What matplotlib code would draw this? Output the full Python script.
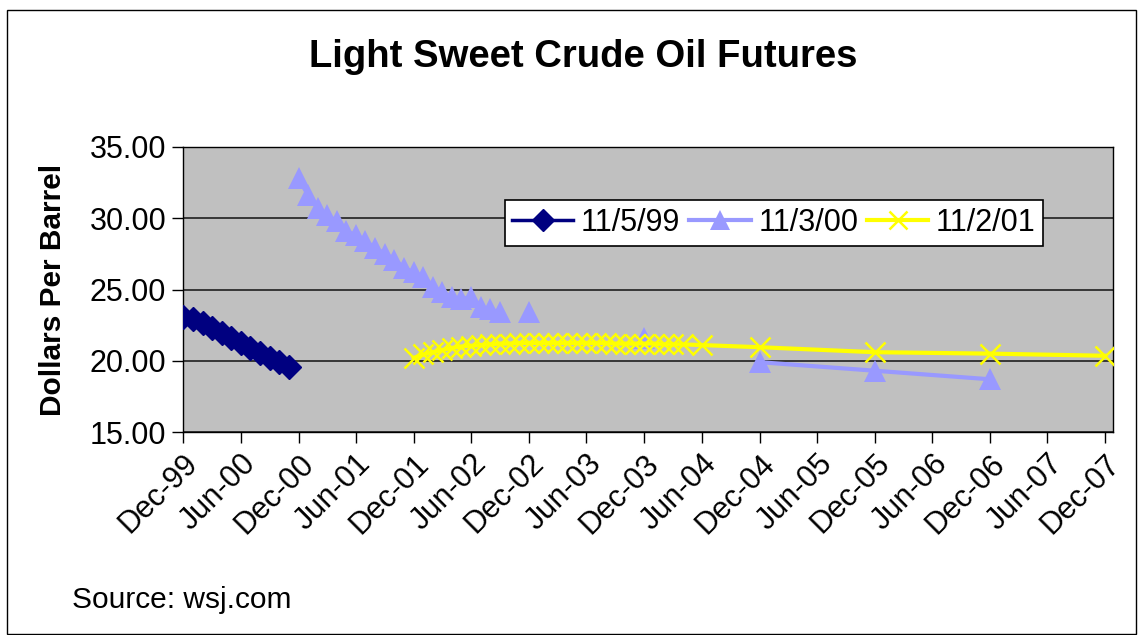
import numpy as np
import pandas as pd
import matplotlib
matplotlib.use('Agg')
import matplotlib.pyplot as plt
import matplotlib.dates as mdates
from matplotlib.patches import Rectangle

plt.rcParams['font.family'] = ['Liberation Sans', 'DejaVu Sans']

nan = np.nan

# futures curve seen on 11/5/99
dates_99 = pd.date_range('1999-12-01', '2000-11-01', freq='MS')
prices_99 = [23.07, 22.93, 22.65, 22.30, 21.95, 21.60, 21.25, 20.90, 20.55, 20.20, 19.90, 19.55]

# futures curve seen on 11/3/00 (blank months break the line, like in the sheet)
dates_00 = pd.date_range('2000-12-01', '2002-09-01', freq='MS').append(
    pd.to_datetime(['2002-11-01', '2002-12-01', '2003-06-01', '2003-12-01',
                    '2004-06-01', '2004-12-01', '2005-12-01', '2006-12-01']))
prices_00 = [32.8, 31.6, 30.7, 30.2, 29.8, 29.1, 28.8, 28.4, 27.9, 27.5, 27.1,
             26.5, 26.2, 25.9, 25.2, 24.8, 24.5, 24.3, 24.5, 23.8, 23.6, 23.4,
             nan, 23.4, nan, 21.6, nan, 19.9, 19.3, 18.7]

# futures curve seen on 11/2/01
dates_01 = pd.date_range('2001-12-01', '2004-04-01', freq='MS').append(
    pd.to_datetime(['2004-06-01', '2004-12-01', '2005-12-01', '2006-12-01', '2007-12-01']))
prices_01 = [20.2, 20.45, 20.6, 20.75, 20.9, 21.0, 21.05, 21.1, 21.15, 21.2,
             21.2, 21.25, 21.25, 21.25, 21.25, 21.25, 21.25, 21.25, 21.25, 21.25,
             21.25, 21.2, 21.2, 21.2, 21.2, 21.2, 21.15, 21.15, 21.15,
             21.1, 20.95, 20.6, 20.5, 20.35]

fig = plt.figure(figsize=(11.43, 6.35), dpi=100)
fig.patch.set_facecolor('white')
# cadre du graphique
fig.patches.append(Rectangle((7 / 1143, 1 / 635), 1129 / 1143, 624 / 635,
                             transform=fig.transFigure, fill=False,
                             edgecolor='black', linewidth=1))

ax = fig.add_axes([183 / 1143, 1 - 432 / 635, 930 / 1143, 285 / 635])
ax.set_facecolor('#C0C0C0')

ax.plot(dates_99, prices_99, color='#000080', marker='D', markersize=12,
        linewidth=2.5, label='11/5/99', zorder=3)
ax.plot(dates_00, prices_00, color='#9999FF', marker='^', markersize=16,
        markeredgewidth=0, linewidth=3, label='11/3/00', zorder=3)
ax.plot(dates_01, prices_01, color='#FFFF00', marker='x', markersize=15,
        markeredgewidth=1.8, linewidth=3, label='11/2/01', zorder=3)

ax.set_ylim(15, 35)
ax.set_yticks([15, 20, 25, 30, 35])
ax.yaxis.set_major_formatter(plt.FuncFormatter(lambda v, p: '%.2f' % v))
ax.set_xlim(pd.Timestamp('1999-12-01'), pd.Timestamp('2007-12-26'))
ax.xaxis.set_major_locator(mdates.MonthLocator(bymonth=[6, 12]))
ax.xaxis.set_major_formatter(mdates.DateFormatter('%b-%y'))
ax.grid(axis='y', color='#202020', linewidth=1.2, zorder=1)
ax.set_axisbelow(True)

ax.tick_params(axis='both', direction='out', length=8, width=1, labelsize=22, pad=4)
plt.setp(ax.get_xticklabels(), rotation=45, ha='right', rotation_mode='anchor')
for s in ax.spines.values():
    s.set_color('black')
    s.set_linewidth(1)

ax.set_ylabel('Dollars Per Barrel', fontsize=21.5, fontweight='bold', labelpad=16)

fig.text(583 / 1143, 1 - 57 / 635, 'Light Sweet Crude Oil Futures', ha='center',
         va='center', fontsize=27.5, fontweight='bold')
fig.text(72 / 1143, 1 - 600 / 635, 'Source: wsj.com', ha='left', va='center', fontsize=21.5)

leg = ax.legend(loc='center', bbox_to_anchor=(774 / 1143, 1 - 223 / 635),
                bbox_transform=fig.transFigure, ncol=3, fontsize=22,
                frameon=True, fancybox=False, framealpha=1, edgecolor='black',
                handlelength=2.0, handletextpad=0.25, columnspacing=0.3,
                borderpad=0.25, markerscale=0.9)
leg.get_frame().set_linewidth(1.2)

fig.savefig('out.png', dpi=100)
